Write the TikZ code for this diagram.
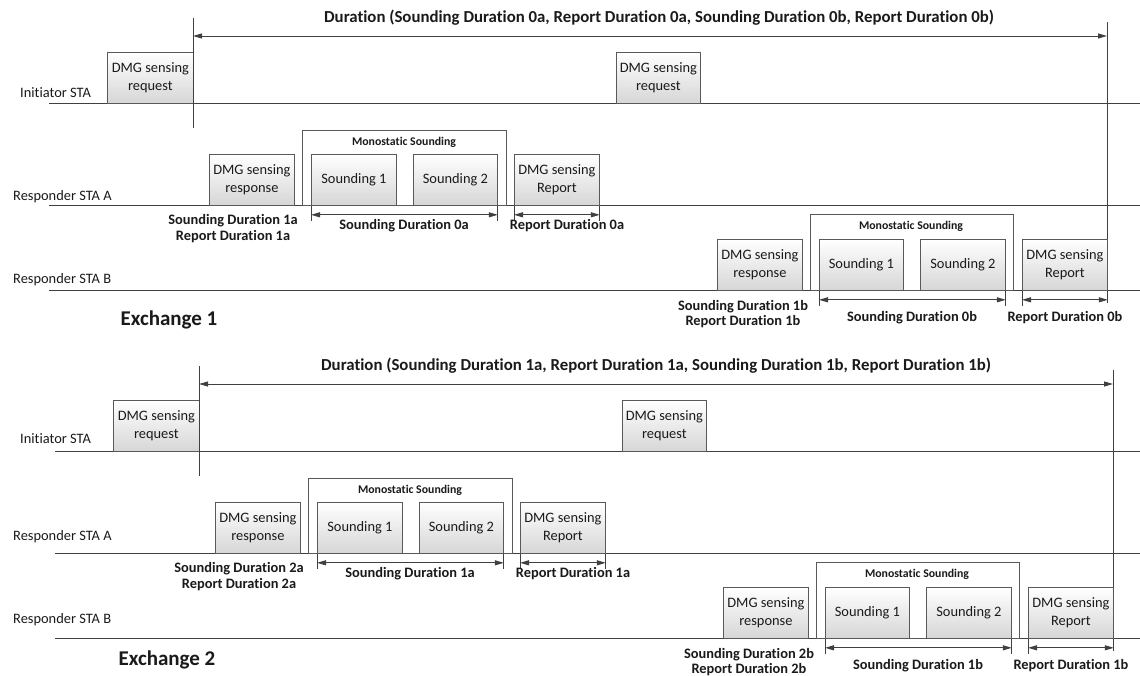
\documentclass[tikz,border=0pt]{standalone}
\usepackage{fontspec}
\setmainfont{Carlito}[Ligatures=NoCommon]
\usetikzlibrary{arrows.meta}

\definecolor{linec}{HTML}{404040}
\definecolor{boxc}{HTML}{595959}
\definecolor{shadec}{HTML}{D6D6D6}
\definecolor{txt}{HTML}{1A1A1A}

\tikzset{
  x=1pt, y=-1pt,
  lane/.style={draw=linec, line width=1pt},
  msgbox/.style={draw=boxc, line width=0.8pt, top color=white, bottom color=shadec,
    inner sep=0pt, align=center, anchor=north west, minimum height=51pt,
    text=txt, font=\fontsize{14.4}{17.5}\selectfont},
  groupbox/.style={draw=boxc, line width=0.8pt, fill=white, inner sep=0pt, anchor=north west},
  span/.style={draw=linec, line width=1pt, {Triangle[length=9pt,width=5pt]}-{Triangle[length=9pt,width=5pt]}},
  durlabel/.style={text=txt, font=\bfseries\fontsize{14.4}{15.5}\selectfont, inner sep=0pt, align=center},
  titlelabel/.style={text=txt, font=\bfseries\fontsize{16.8}{18}\selectfont, inner sep=0pt},
  grouplabel/.style={text=txt, font=\bfseries\fontsize{11.8}{13}\selectfont, inner sep=0pt},
  lanelabel/.style={text=txt, font=\fontsize{14.4}{16}\selectfont, inner sep=0pt, anchor=west},
  exlabel/.style={text=txt, font=\bfseries\fontsize{21}{24}\selectfont, inner sep=0pt},
}

% One sensing exchange: #1 index of the current durations, #2 index of the
% next ones, #3 right end of the lanes (local x), #4 centre of the title (local x)
\newcommand\sensingexchange[4]{%
  % lanes
  \coordinate (ini0) at (49,103);  \coordinate (ini1) at (#3,103);
  \coordinate (ra0)  at (49,205);  \coordinate (ra1)  at (#3,205);
  \coordinate (rb0)  at (49,290);  \coordinate (rb1)  at (#3,290);
  \draw[lane] (ini0) -- (ini1);
  \draw[lane] (ra0) -- (ra1);
  \draw[lane] (rb0) -- (rb1);
  % initiator frames
  \node[msgbox, minimum width=86pt] (req1) at (107,52) {DMG sensing\\request};
  \node[msgbox, minimum width=84pt] (req2) at (616,52) {DMG sensing\\request};
  % overall duration
  \coordinate (vl0) at (193,18);   \coordinate (vl1) at (193,128);
  \coordinate (vr0) at (1107,22);  \coordinate (vr1) at (1107,303);
  \draw[lane] (vl0) -- (vl1);
  \draw[lane] (vr0) -- (vr1);
  \coordinate (dl) at (193,36);    \coordinate (dr) at (1107,36);
  \draw[span] (dl) -- (dr);
  \node[titlelabel] (title) at (#4,18) {Duration (Sounding Duration #1a, Report Duration #1a, Sounding Duration #1b, Report Duration #1b)};
  % responder A
  \node[msgbox, minimum width=85pt] (respa) at (209,154) {DMG sensing\\response};
  \node[groupbox, minimum width=204pt, minimum height=75pt] (monoa) at (302,130) {};
  \node[grouplabel] (monoalab) at (404,142) {Monostatic Sounding};
  \node[msgbox, minimum width=85pt] (sa1) at (311,154) {Sounding 1};
  \node[msgbox, minimum width=84pt] (sa2) at (413,154) {Sounding 2};
  \node[msgbox, minimum width=85pt] (repa) at (514,154) {DMG sensing\\Report};
  \draw[lane] (sa1.south west) -- ++(0,15);
  \draw[lane] (sa2.south east) -- ++(0,15);
  \draw[lane] (repa.south west) -- ++(0,15);
  \draw[lane] (repa.south east) -- ++(0,15);
  \draw[span] ([yshift=-9pt]sa1.south west) -- ([yshift=-9pt]sa2.south east);
  \draw[span] ([yshift=-9pt]repa.south west) -- ([yshift=-9pt]repa.south east);
  \node[durlabel] (nexta) at (233,228.5) {Sounding Duration #2a\\Report Duration #2a};
  \node[durlabel] (sda) at (404,226) {Sounding Duration #1a};
  \node[durlabel] (rda) at (567,226) {Report Duration #1a};
  % responder B
  \node[msgbox, minimum width=85pt] (respb) at (717,239) {DMG sensing\\response};
  \node[groupbox, minimum width=203pt, minimum height=76pt] (monob) at (810,214) {};
  \node[grouplabel] (monoblab) at (911,226) {Monostatic Sounding};
  \node[msgbox, minimum width=84pt] (sb1) at (819,239) {Sounding 1};
  \node[msgbox, minimum width=85pt] (sb2) at (920,239) {Sounding 2};
  \node[msgbox, minimum width=85pt] (repb) at (1022,239) {DMG sensing\\Report};
  \draw[lane] (sb1.south west) -- ++(0,15);
  \draw[lane] (sb2.south east) -- ++(0,15);
  \draw[lane] (repb.south west) -- ++(0,15);
  \draw[span] ([yshift=-9pt]sb1.south west) -- ([yshift=-9pt]sb2.south east);
  \draw[span] ([yshift=-9pt]repb.south west) -- ([yshift=-9pt]repb.south east);
  \node[durlabel] (nextb) at (743,314) {Sounding Duration #2b\\Report Duration #2b};
  \node[durlabel] (sdb) at (912,318) {Sounding Duration #1b};
  \node[durlabel] (rdb) at (1065,318) {Report Duration #1b};
}

\begin{document}
\begin{tikzpicture}
  \useasboundingbox[fill=white] (0,0) rectangle (1140,675);

  \begin{scope}[name prefix=exa-]
    \sensingexchange{0}{1}{1140}{659}
  \end{scope}
  \begin{scope}[shift={(6,348)}, name prefix=exb-]
    \sensingexchange{1}{2}{1134}{650}
  \end{scope}

  % lane names
  \node[lanelabel] (la1) at (20,93)  {Initiator STA};
  \node[lanelabel] (la2) at (13,197) {Responder STA A};
  \node[lanelabel] (la3) at (13,280) {Responder STA B};
  \node[lanelabel] (lb1) at (20,439) {Initiator STA};
  \node[lanelabel] (lb2) at (13,537) {Responder STA A};
  \node[lanelabel] (lb3) at (13,620) {Responder STA B};

  \node[exlabel] (ex1) at (169,320) {Exchange 1};
  \node[exlabel] (ex2) at (167,660) {Exchange 2};
\end{tikzpicture}
\end{document}
